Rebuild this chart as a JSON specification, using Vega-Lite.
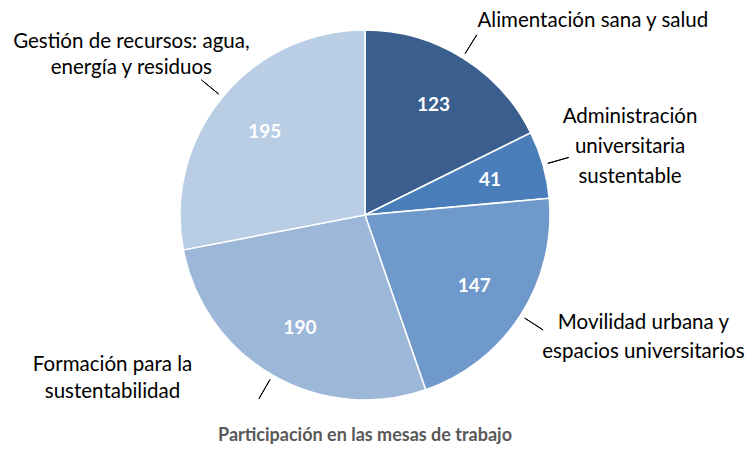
{
  "$schema": "https://vega.github.io/schema/vega-lite/v6.json",
  "width": 720,
  "height": 420,
  "autosize": {"type": "none"},
  "padding": {"left": 5, "top": 5, "right": 27, "bottom": 25},
  "background": "white",
  "view": {"stroke": null},
  "title": {
    "text": "Participación en las mesas de trabajo",
    "orient": "bottom",
    "frame": "group",
    "anchor": "middle",
    "font": "Lato",
    "fontSize": 18,
    "fontWeight": "bold",
    "color": "#595959",
    "offset": 2
  },
  "data": {
    "values": [
      {"cat": "Alimentación sana y salud", "value": 123, "label": ["Alimentación sana y salud"]},
      {"cat": "Administración universitaria sustentable", "value": 41, "label": ["Administración", "universitaria", "sustentable"]},
      {"cat": "Movilidad urbana y espacios universitarios", "value": 147, "label": ["Movilidad urbana y", "espacios  universitarios"]},
      {"cat": "Formación para la sustentabilidad", "value": 190, "label": ["Formación para la", "sustentabilidad"]},
      {"cat": "Gestión de recursos: agua, energía y residuos", "value": 195, "label": ["Gestión de recursos: agua,", "energía y residuos"]}
    ]
  },
  "transform": [{"window": [{"op": "row_number", "as": "idx"}]}],
  "encoding": {
    "theta": {"field": "value", "type": "quantitative", "stack": true},
    "order": {"field": "idx", "type": "quantitative"},
    "detail": {"field": "cat", "type": "nominal"}
  },
  "layer": [
    {
      "mark": {"type": "arc", "outerRadius": 185, "stroke": "white", "strokeWidth": 1.5},
      "encoding": {
        "color": {
          "field": "cat",
          "type": "nominal",
          "legend": null,
          "scale": {
            "domain": ["Alimentación sana y salud", "Administración universitaria sustentable", "Movilidad urbana y espacios universitarios", "Formación para la sustentabilidad", "Gestión de recursos: agua, energía y residuos"],
            "range": ["#3A5F8E", "#4A7EBB", "#6F98CB", "#9DB7D9", "#B9CDE5"]
          }
        }
      }
    },
    {
      "mark": {"type": "arc", "innerRadius": 190, "outerRadius": 212, "padAngle": 1.5, "fillOpacity": 0, "stroke": "#000000", "strokeWidth": 1}
    },
    {
      "mark": {"type": "text", "radius": 130, "font": "Lato", "fontSize": 19, "fontWeight": "bold", "color": "white", "align": "center", "baseline": "middle"},
      "encoding": {"text": {"field": "value", "type": "quantitative"}}
    },
    {
      "mark": {"type": "text", "radius": 185, "dx": 15, "dy": -37, "align": "left", "baseline": "middle", "font": "Lato", "fontSize": 20.5, "lineHeight": 28, "color": "#000000"},
      "encoding": {"text": {"condition": {"test": "datum.cat === 'Alimentación sana y salud'", "field": "label", "type": "nominal"}, "value": ""}}
    },
    {
      "mark": {"type": "text", "radius": 185, "dx": 87, "dy": -48, "align": "center", "baseline": "middle", "font": "Lato", "fontSize": 20.5, "lineHeight": 30, "color": "#000000"},
      "encoding": {"text": {"condition": {"test": "datum.cat === 'Administración universitaria sustentable'", "field": "label", "type": "nominal"}, "value": ""}}
    },
    {
      "mark": {"type": "text", "radius": 185, "dx": 123, "dy": 8, "align": "center", "baseline": "middle", "font": "Lato", "fontSize": 20.5, "lineHeight": 29, "color": "#000000"},
      "encoding": {"text": {"condition": {"test": "datum.cat === 'Movilidad urbana y espacios universitarios'", "field": "label", "type": "nominal"}, "value": ""}}
    },
    {
      "mark": {"type": "text", "radius": 185, "dx": -160, "dy": -10, "align": "center", "baseline": "middle", "font": "Lato", "fontSize": 20.5, "lineHeight": 27, "color": "#000000"},
      "encoding": {"text": {"condition": {"test": "datum.cat === 'Formación para la sustentabilidad'", "field": "label", "type": "nominal"}, "value": ""}}
    },
    {
      "mark": {"type": "text", "radius": 185, "dx": -91, "dy": -55, "align": "center", "baseline": "middle", "font": "Lato", "fontSize": 20.5, "lineHeight": 26, "color": "#000000"},
      "encoding": {"text": {"condition": {"test": "datum.cat === 'Gestión de recursos: agua, energía y residuos'", "field": "label", "type": "nominal"}, "value": ""}}
    }
  ]
}
